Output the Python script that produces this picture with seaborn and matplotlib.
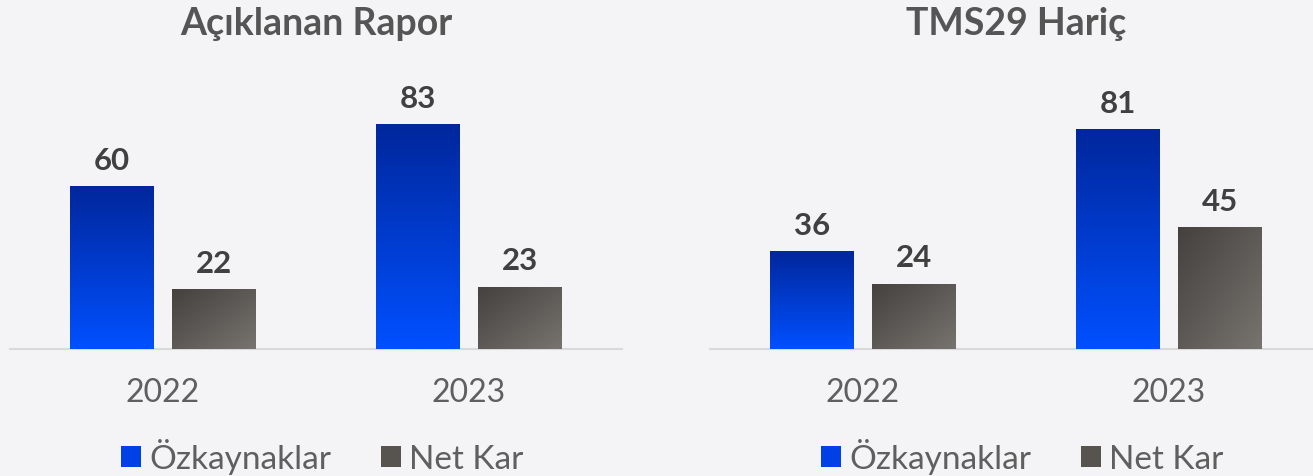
import numpy as np
import pandas as pd
import seaborn as sns
import matplotlib.pyplot as plt
from matplotlib.patches import Patch
from matplotlib.colors import to_rgb

years = ["2022", "2023"]
series = ["Özkaynaklar", "Net Kar"]
panel_titles = ["Açıklanan Rapor", "TMS29 Hariç"]
ozkaynak_reported = [60, 83]
netkar_reported = [22, 23]
ozkaynak_ex = [36, 81]
netkar_ex = [24, 45]

bg = "#f4f4f6"
blue_top, blue_bot = "#00279c", "#0050ff"
gray_dark, gray_light = "#44413e", "#77736f"

sns.set_theme(style="white")
plt.rcParams["font.family"] = ["Lato", "DejaVu Sans"]


def gradient_bar(ax, patch, c_start, c_end, diagonal):
    x0, y0 = patch.get_x(), patch.get_y()
    w, h = patch.get_width(), patch.get_height()
    n = 64
    yy, xx = np.mgrid[0:1:n * 1j, 0:1:n * 1j]
    if diagonal:
        t = np.clip((xx + (1 - yy)) / 2, 0, 1)  # dark top-left -> light bottom-right
    else:
        t = 1 - yy  # dark top -> bright bottom
    a, b = np.array(to_rgb(c_start)), np.array(to_rgb(c_end))
    img = a[None, None, :] * (1 - t[..., None]) + b[None, None, :] * t[..., None]
    im = ax.imshow(img, extent=(x0, x0 + w, y0, y0 + h), origin="lower",
                   aspect="auto", zorder=3, interpolation="bilinear")
    im.set_clip_path(patch)
    patch.set_facecolor("none")
    patch.set_edgecolor("none")


fig = plt.figure(figsize=(13.13, 4.77), dpi=100, facecolor=bg)
W, H = 1313, 477
panels = [(ozkaynak_reported, netkar_reported, 10), (ozkaynak_ex, netkar_ex, 710)]

for (oz, nk, left_px), title in zip(panels, panel_titles):
    ax = fig.add_axes([left_px / W, 127 / H, 612 / W, 290 / H])
    ax.set_facecolor(bg)
    df = pd.DataFrame({
        "year": years * 2,
        "series": [series[0]] * 2 + [series[1]] * 2,
        "value": oz + nk,
    })
    sns.barplot(data=df, x="year", y="value", hue="series", hue_order=series,
                palette=[blue_bot, gray_light], width=0.667, gap=0.18,
                legend=False, ax=ax)
    for i, cont in enumerate(ax.containers):
        for p in cont.patches:
            if i == 0:
                gradient_bar(ax, p, blue_top, blue_bot, diagonal=False)
            else:
                gradient_bar(ax, p, gray_dark, gray_light, diagonal=True)
        ax.bar_label(cont, labels=[f"{v:.0f}" for v in cont.datavalues],
                     padding=9, fontsize=22.5, fontweight="bold", color="#404040")
    ax.set_xlim(-0.5, 1.5)
    ax.set_ylim(0, 107)
    ax.set_xlabel("")
    ax.set_ylabel("")
    ax.set_yticks([])
    for s in ["top", "right", "left"]:
        ax.spines[s].set_visible(False)
    ax.spines["bottom"].set_color("#d9d9d9")
    ax.spines["bottom"].set_linewidth(1.5)
    ax.tick_params(axis="x", length=0, pad=20, labelsize=23, labelcolor="#5f5f5f")
    fig.text((left_px + 306) / W, 1 - 24 / H, title, ha="center", va="center",
             fontsize=27, fontweight="bold", color="#555555")

    handles = [Patch(facecolor="#0040e6", edgecolor="none"),
               Patch(facecolor="#57534f", edgecolor="none")]
    ax.legend(handles, series, loc="center", bbox_to_anchor=(0.51, -0.37),
              ncol=2, frameon=False, fontsize=24, labelcolor="#5f5f5f",
              handlelength=0.6, handleheight=0.6, handletextpad=0.25,
              columnspacing=1.5)

fig.savefig("out.png", dpi=100, facecolor=bg)
